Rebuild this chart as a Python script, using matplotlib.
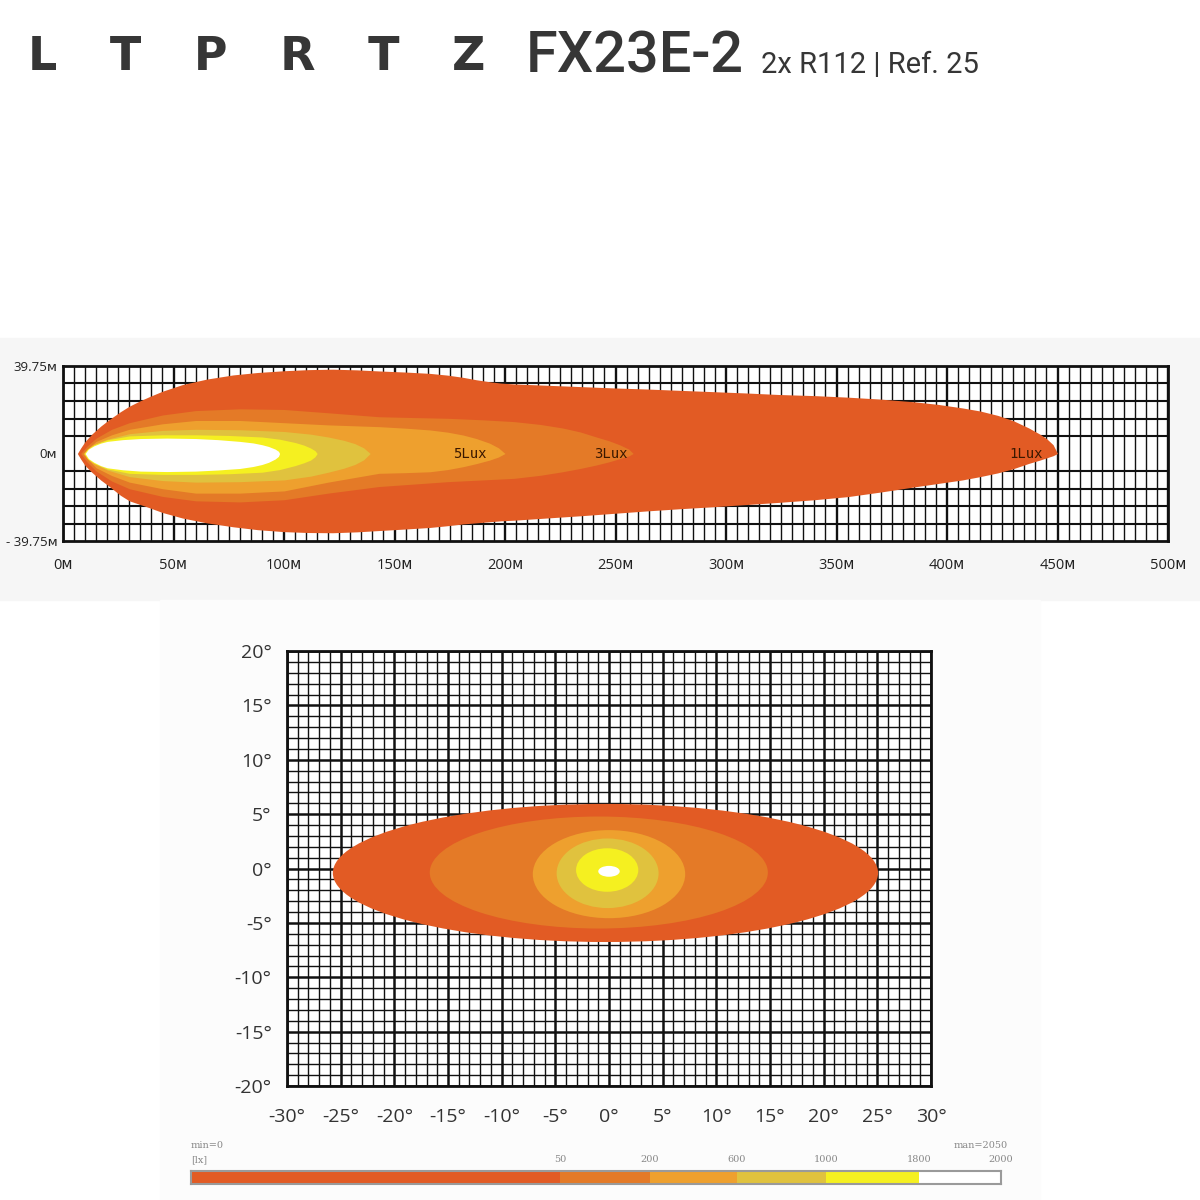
import numpy as np
import matplotlib
matplotlib.use("Agg")
import matplotlib.pyplot as plt
from matplotlib.patches import Ellipse, Rectangle

### 0. 資料 (從圖上讀出的數值)
# 上圖: 照射距離 (M) 與上/下緣 (M)
lux1_x = [6.5, 8, 10, 13, 17, 21, 26, 30, 35, 39, 45, 54, 65, 77, 88, 100, 111, 122, 133, 143,
          155, 166, 174, 181, 187, 193, 198, 204, 219, 234, 249, 264, 279, 294, 309, 324, 340,
          355, 370, 385, 396, 407, 415, 423, 430, 437, 442, 445, 448, 450]
lux1_top = [0, 2.5, 5.5, 8.8, 12.4, 15.5, 19, 21.5, 24, 25.8, 28.3, 31.3, 33.8, 35.7, 36.8, 37.6,
            38.1, 38.3, 38, 37.5, 37, 36.4, 35.6, 34.6, 33.5, 32.6, 32, 31.6, 31, 30.4, 29.8,
            29.3, 28.7, 28.1, 27.5, 26.8, 26.3, 25.6, 24.7, 23.5, 22.3, 20.7, 19.3, 17.3, 14.9,
            11.6, 8.8, 6.8, 4, 0]
lux1_bot = [0, -2.5, -5.5, -8.5, -12, -15, -19, -21.5, -23.2, -24.6, -26.8, -29.3, -31.5, -33.3,
            -34.6, -35.5, -35.9, -36, -35.6, -35, -34.3, -33.6, -32.8, -32, -31.5, -31, -30.6,
            -30.3, -29.3, -28.3, -27.2, -26.1, -25.1, -24.2, -23.2, -22.2, -21, -19.6, -17.5,
            -15.2, -13.6, -12, -10.5, -8.8, -6.9, -4.5, -3, -2, -1, 0]

lux3_x = [8, 11, 15, 22, 30, 45, 60, 80, 100, 120, 143, 160, 174, 190, 204, 216, 226, 234, 241,
          247, 252, 256, 258]
lux3_top = [0, 3.5, 7, 11, 14, 17.5, 19.5, 20.3, 20, 18.5, 16.7, 16.3, 16, 15.3, 14.5, 13.2,
            11.6, 9.8, 7.6, 5.8, 3.9, 2, 0]
lux3_bot = [0, -4, -8, -12.5, -16, -19.5, -21.5, -22, -21, -18, -15, -13.8, -12.8, -12, -11.3,
            -9.9, -8.3, -6.8, -5.3, -3.8, -2.3, -1.1, 0]

lux5_x = [9, 12, 15, 22, 30, 45, 60, 80, 100, 120, 143, 155, 166, 174, 181, 187, 193, 197, 200]
lux5_top = [0, 3, 5.5, 8.5, 11, 13.5, 15, 15, 14, 13, 12.2, 11.5, 10.7, 9.7, 8.4, 6.8, 4.7, 2.6, 0]
lux5_bot = [0, -3.5, -6.5, -10, -13, -16, -18, -18, -17, -13, -9, -8.7, -8.3, -7.3, -6, -4.6,
            -3, -1.6, 0]

mus_x = [10, 12, 15, 20, 30, 45, 60, 80, 100, 112, 120, 127, 132, 136, 139]
mus_top = [0, 2.5, 4.5, 6.5, 9, 10.5, 11, 10.8, 10, 8.8, 7.5, 6, 4.5, 2.6, 0]
mus_bot = [0, -3, -5, -7.5, -10.5, -12.3, -13, -12.8, -12, -10.3, -8.5, -6.7, -5, -2.9, 0]

yel_x = [9.5, 11, 14, 20, 30, 45, 60, 75, 90, 98, 105, 109, 112, 114, 115]
yel_top = [0, 2, 4, 6.2, 8, 8.5, 8.5, 8.2, 7.5, 6.5, 5, 3.8, 2.5, 1.3, 0]
yel_bot = [0, -2.3, -4.5, -7, -9, -9.5, -9.5, -9.2, -8.5, -7.3, -5.5, -4.2, -3, -1.5, 0]

wht_x = [10, 11.5, 14, 17, 20, 27, 35, 47, 60, 70, 80, 86, 90, 93, 96, 97.5, 98]
wht_top = [0, 2, 3.5, 4.7, 5.5, 6.3, 6.8, 7, 6.8, 6.3, 5.5, 4.8, 4, 3.2, 2, 1, 0]
wht_bot = [0, -2.3, -4, -5.5, -6.5, -7.4, -8, -8.2, -8, -7.5, -6.8, -5.9, -5, -4, -2.5, -1.3, 0]

lux_labels = ["5Lux", "3Lux", "1Lux"]
lux_label_x = [184, 248, 436]

dist_ticks = list(range(0, 501, 50))
side_ticks = [-39.75, 0, 39.75]
side_labels = ["- 39.75ᴍ", "0ᴍ", "39.75ᴍ"]

# 下圖: 角度橢圓 (中心x, 中心y, 寬, 高), 由外到內
ell_cx = [-0.33, -0.95, 0.0, -0.13, -0.17, 0.0]
ell_cy = [-0.41, -0.37, -0.52, -0.44, -0.14, -0.26]
ell_w = [50.8, 31.5, 14.2, 9.5, 5.8, 2.0]
ell_h = [12.7, 10.3, 8.1, 6.4, 4.0, 1.0]

# 圖例
legend_bounds = [0, 50, 200, 600, 1000, 1800, 2000]
legend_colors = ["#e25b24", "#e47a27", "#eea02e", "#e0c23e", "#f5f020", "#ffffff"]

### 1. 畫布
fig = plt.figure(figsize=(12, 12), dpi=100)
W = 1200.0

def fx(px):
    return px / W

def fy(py):
    return 1 - py / W

# 淡灰色底
fig.patches.append(Rectangle((0, fy(600)), 1, (600 - 338) / W, transform=fig.transFigure,
                             color="#f6f6f6", zorder=-10))
fig.patches.append(Rectangle((fx(160), 0), fx(880), fy(600), transform=fig.transFigure,
                             color="#fcfcfc", zorder=-10))

### 2. 標題
gap = "   \u200a"
fig.text(fx(28), fy(57), gap.join("LTPRTZ"), fontsize=33, fontweight="bold",
         family="DejaVu Sans", color="#363636", va="center", ha="left")
fig.text(fx(526), fy(57), "FX23E-2", fontsize=41.5, fontweight="medium",
         family="Roboto", color="#363636", va="center", ha="left")
fig.text(fx(761), fy(65), "2x R112 | Ref. 25", fontsize=21,
         family="Roboto", color="#363636", va="center", ha="left")

### 3. 上圖 (距離)
c = legend_colors
tick_font = ["Liberation Sans Narrow", "Open Sans", "DejaVu Sans"]
ax1 = fig.add_axes([fx(63), fy(541), fx(1168 - 63), (541 - 366) / W])
ax1.set_xlim(0, 500)
ax1.set_ylim(-39.75, 39.75)
ax1.set_facecolor("white")
ax1.set_xticks(dist_ticks)
ax1.set_xticks(np.arange(0, 501, 5), minor=True)
ax1.set_yticks(side_ticks)
ax1.set_yticks(np.linspace(-39.75, 39.75, 11), minor=True)
ax1.set_xticklabels([f"{v}ᴍ" for v in dist_ticks])
ax1.set_yticklabels(side_labels)
ax1.set_axisbelow(True)
ax1.grid(which="major", axis="x", color="#111111", lw=1.7)
ax1.grid(which="minor", axis="x", color="#111111", lw=1.0)
ax1.grid(which="minor", axis="y", color="#111111", lw=1.5)
ax1.tick_params(which="both", length=0)
ax1.tick_params(axis="x", pad=12, labelsize=10.5)
ax1.tick_params(axis="y", pad=4, labelsize=9.5)
for lab in ax1.get_xticklabels() + ax1.get_yticklabels():
    lab.set_family(tick_font)
    lab.set_color("#222222")
for s in ax1.spines.values():
    s.set_linewidth(2)
    s.set_color("#111111")

ax1.fill_between(lux1_x, lux1_bot, lux1_top, color=c[0], lw=0)
ax1.fill_between(lux3_x, lux3_bot, lux3_top, color=c[1], lw=0)
ax1.fill_between(lux5_x, lux5_bot, lux5_top, color=c[2], lw=0)
ax1.fill_between(mus_x, mus_bot, mus_top, color=c[3], lw=0)
ax1.fill_between(yel_x, yel_bot, yel_top, color=c[4], lw=0)
ax1.fill_between(wht_x, wht_bot, wht_top, color=c[5], lw=0)

for t, xv in zip(lux_labels, lux_label_x):
    ax1.text(xv, 0, t, ha="center", va="center", fontsize=10,
             family="DejaVu Sans Mono", color="#3a1800")

### 4. 下圖 (角度)
ax2 = fig.add_axes([fx(287), fy(1086), fx(931 - 287), (1086 - 651) / W])
ax2.set_xlim(-30, 30)
ax2.set_ylim(-20, 20)
ax2.set_facecolor("white")
ax2.set_xticks(np.arange(-30, 31, 5))
ax2.set_xticks(np.arange(-30, 31, 1), minor=True)
ax2.set_yticks(np.arange(-20, 21, 5))
ax2.set_yticks(np.arange(-20, 21, 1), minor=True)
ax2.set_xticklabels([f"{v}°" for v in range(-30, 31, 5)])
ax2.set_yticklabels([f"{v}°" for v in range(-20, 21, 5)])
ax2.set_axisbelow(True)
ax2.grid(which="major", color="#111111", lw=1.8)
ax2.grid(which="minor", color="#111111", lw=1.0)
ax2.tick_params(which="both", length=0)
ax2.tick_params(axis="x", pad=16, labelsize=14)
ax2.tick_params(axis="y", pad=11, labelsize=14)
for lab in ax2.get_xticklabels() + ax2.get_yticklabels():
    lab.set_family(["Open Sans", "DejaVu Sans"])
    lab.set_color("#333333")
for s in ax2.spines.values():
    s.set_linewidth(2)
    s.set_color("#111111")

for i in range(len(ell_w)):
    ax2.add_patch(Ellipse((ell_cx[i], ell_cy[i]), ell_w[i], ell_h[i],
                          facecolor=legend_colors[i], edgecolor="none", zorder=2))

### 5. 圖例色條
ax3 = fig.add_axes([fx(191), fy(1184), fx(1001 - 191), (1184 - 1171) / W])
seg_w = [369, 89, 87, 89, 93, 82]
left = 0
seg_left = []
for w_ in seg_w:
    seg_left.append(left)
    left += w_
ax3.barh(0, seg_w, left=seg_left, height=1, color=legend_colors, edgecolor="none")
ax3.set_xlim(0, sum(seg_w))
ax3.set_ylim(-0.5, 0.5)
ax3.set_xticks([])
ax3.set_yticks([])
for s in ax3.spines.values():
    s.set_linewidth(1.5)
    s.set_color("#9a9a9a")

bound_pos = seg_left + [sum(seg_w)]
for b, xp in zip(legend_bounds[1:], bound_pos[1:]):
    ax3.text(xp, 1.0, str(b), ha="center", va="bottom", fontsize=7,
             family="DejaVu Serif", color="#888888")
ax3.text(0, 1.0, "[lx]", ha="left", va="bottom", fontsize=7,
         family="DejaVu Serif", color="#888888")
ax3.text(0, 2.1, "min=0", ha="left", va="bottom", fontsize=7,
         family="DejaVu Serif", color="#888888")
ax3.text(sum(seg_w) + 7, 2.1, "man=2050", ha="right", va="bottom", fontsize=7,
         family="DejaVu Serif", color="#888888")

fig.savefig("out.png", dpi=100)
